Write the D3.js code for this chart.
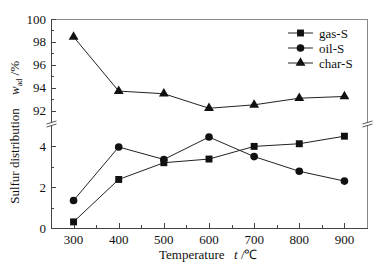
<!DOCTYPE html>
<html>
<head>
<meta charset="utf-8">
<script src="https://cdn.jsdelivr.net/npm/d3@7"></script>
<style>
  html, body { margin: 0; padding: 0; background: #fff; }
  svg { display: block; font-family: "Liberation Serif", "Times New Roman", serif; }
</style>
</head>
<body>
<svg id="chart" width="375" height="266"></svg>
<script>
// data
const temps = [300, 400, 500, 600, 700, 800, 900];
const gasS  = [0.3, 2.38, 3.2, 3.38, 4.0, 4.13, 4.5];
const oilS  = [1.35, 3.97, 3.36, 4.46, 3.5, 2.78, 2.3];
const charS = [98.44, 93.7, 93.47, 92.2, 92.5, 93.08, 93.23];

const xTicks = [300, 400, 500, 600, 700, 800, 900];
const xMinor = [350, 450, 550, 650, 750, 850];
const lowTicks = [0, 2, 4];
const lowMinor = [1, 3];
const highTicks = [92, 94, 96, 98, 100];
const highMinor = [93, 95, 97, 99];

const seriesNames = ['gas-S', 'oil-S', 'char-S'];

const svg = d3.select('#chart');
const m = {left: 51, right: 367, top: 19, bottom: 228, breakY: 124};
const axisCol = '#444', frameCol = '#888', textCol = '#111';

const x = d3.scaleLinear().domain([250, 950]).range([m.left, m.right]);
const yLow = d3.scaleLinear().domain([0, 5]).range([m.bottom, 126]);
const yHigh = d3.scaleLinear().domain([91, 100]).range([122, m.top]);

// frame
svg.append('line').attr('x1', m.left).attr('x2', m.right).attr('y1', m.top + 0.5).attr('y2', m.top + 0.5)
  .attr('stroke', frameCol);
svg.append('line').attr('x1', m.right + 0.5).attr('x2', m.right + 0.5).attr('y1', m.top).attr('y2', m.bottom)
  .attr('stroke', frameCol);
svg.append('line').attr('x1', m.left + 0.5).attr('x2', m.left + 0.5).attr('y1', m.top).attr('y2', m.bottom)
  .attr('stroke', axisCol);
svg.append('line').attr('x1', m.left).attr('x2', m.right + 1).attr('y1', m.bottom + 0.5).attr('y2', m.bottom + 0.5)
  .attr('stroke', axisCol);

// x ticks (inside)
const gx = svg.append('g');
gx.selectAll('line.maj').data(xTicks).join('line').attr('class', 'maj')
  .attr('x1', d => Math.round(x(d)) + 0.5).attr('x2', d => Math.round(x(d)) + 0.5)
  .attr('y1', m.bottom).attr('y2', m.bottom - 5).attr('stroke', axisCol);
gx.selectAll('line.min').data(xMinor).join('line').attr('class', 'min')
  .attr('x1', d => Math.round(x(d)) + 0.5).attr('x2', d => Math.round(x(d)) + 0.5)
  .attr('y1', m.bottom).attr('y2', m.bottom - 3).attr('stroke', axisCol);
gx.selectAll('text').data(xTicks).join('text')
  .attr('x', d => x(d)).attr('y', 243.5)
  .attr('text-anchor', 'middle').attr('font-size', 13).attr('fill', textCol)
  .text(d => d);

// y ticks, lower and upper segments
function yTicks(scale, major, minor) {
  const g = svg.append('g');
  g.selectAll('line.maj').data(major).join('line').attr('class', 'maj')
    .attr('x1', m.left).attr('x2', m.left + 5)
    .attr('y1', d => Math.round(scale(d)) + 0.5).attr('y2', d => Math.round(scale(d)) + 0.5)
    .attr('stroke', axisCol);
  g.selectAll('line.min').data(minor).join('line').attr('class', 'min')
    .attr('x1', m.left).attr('x2', m.left + 3)
    .attr('y1', d => Math.round(scale(d)) + 0.5).attr('y2', d => Math.round(scale(d)) + 0.5)
    .attr('stroke', axisCol);
  g.selectAll('text').data(major).join('text')
    .attr('x', 46).attr('y', d => scale(d) + 4.5)
    .attr('text-anchor', 'end').attr('font-size', 13).attr('fill', textCol)
    .text(d => d);
}
yTicks(yLow, lowTicks, lowMinor);
yTicks(yHigh, highTicks, highMinor);

// axis breaks
[m.left + 0.5, m.right + 0.5].forEach(ax => {
  svg.append('rect').attr('x', ax - 2).attr('y', m.breakY - 1.5).attr('width', 4).attr('height', 3)
    .attr('fill', '#fff');
  [-1.5, 1.5].forEach(o => {
    svg.append('line')
      .attr('x1', ax - 5).attr('y1', m.breakY + o + 1.5)
      .attr('x2', ax + 5).attr('y2', m.breakY + o - 1.5)
      .attr('stroke', axisCol).attr('stroke-width', 0.9);
  });
});

// series
const line = (ys, scale) => d3.line().x((d, i) => x(temps[i])).y(d => scale(d))(ys);
const sym = {
  'gas-S': d3.symbol(d3.symbolSquare, 48),
  'oil-S': d3.symbol(d3.symbolCircle, 46),
  'char-S': d3.symbol(d3.symbolTriangle, 42)
};
const series = [
  {name: 'gas-S', vals: gasS, scale: yLow},
  {name: 'oil-S', vals: oilS, scale: yLow},
  {name: 'char-S', vals: charS, scale: yHigh}
];
series.forEach(s => {
  svg.append('path').attr('d', line(s.vals, s.scale))
    .attr('fill', 'none').attr('stroke', '#222').attr('stroke-width', 1);
  svg.append('g').selectAll('path').data(s.vals).join('path')
    .attr('d', sym[s.name])
    .attr('transform', (d, i) => `translate(${x(temps[i])},${s.scale(d)})`)
    .attr('fill', '#111');
});

// legend
const lg = svg.append('g');
seriesNames.forEach((n, i) => {
  const yy = 33 + i * 15;
  lg.append('line').attr('x1', 288).attr('x2', 313).attr('y1', yy).attr('y2', yy)
    .attr('stroke', '#222');
  lg.append('path').attr('d', sym[n]).attr('transform', `translate(300.5,${yy})`).attr('fill', '#111');
  lg.append('text').attr('x', 319).attr('y', yy + 4.5).attr('font-size', 13).attr('fill', textCol).text(n);
});

// axis titles
const xt = svg.append('text').attr('x', 159).attr('y', 259).attr('font-size', 13).attr('fill', textCol);
xt.append('tspan').text('Temperature');
xt.append('tspan').attr('x', 234).attr('font-style', 'italic').text('t');
xt.append('tspan').text(' /℃');

svg.append('text').attr('transform', 'translate(19,156) rotate(-90)')
  .attr('text-anchor', 'middle').attr('font-size', 13).attr('fill', textCol)
  .text('Sulfur distribution');

const wt = svg.append('text').attr('transform', 'translate(19,78) rotate(-90)')
  .attr('text-anchor', 'middle').attr('font-size', 13).attr('fill', textCol);
wt.append('tspan').attr('font-style', 'italic').text('w');
wt.append('tspan').attr('font-size', 8).attr('dy', 3).text('ad');
wt.append('tspan').attr('dy', -3).text(' /%');
</script>
</body>
</html>
